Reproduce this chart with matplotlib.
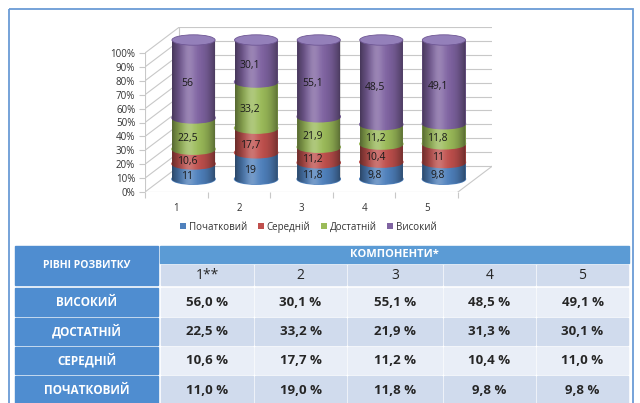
import numpy as np
import matplotlib.pyplot as plt
from matplotlib.patches import Ellipse, Rectangle, Patch, Polygon

plt.rcParams['font.family'] = ['Open Sans', 'DejaVu Sans']

# chart data (stacked bottom to top, raw values shown as labels)
components = ['1', '2', '3', '4', '5']
levels = ['Початковий', 'Середній', 'Достатній', 'Високий']
pochatkovyi = [11, 19, 11.8, 9.8, 9.8]
serednii = [10.6, 17.7, 11.2, 10.4, 11]
dostatnii = [22.5, 33.2, 21.9, 11.2, 11.8]
vysokyi = [56, 30.1, 55.1, 48.5, 49.1]
y_ticks = [0, 10, 20, 30, 40, 50, 60, 70, 80, 90, 100]

# table data
table_header = 'РІВНІ РОЗВИТКУ'
table_group = 'КОМПОНЕНТИ*'
table_cols = ['1**', '2', '3', '4', '5']
table_rows = ['ВИСОКИЙ', 'ДОСТАТНІЙ', 'СЕРЕДНІЙ', 'ПОЧАТКОВИЙ']
t_vysokyi = [56.0, 30.1, 55.1, 48.5, 49.1]
t_dostatnii = [22.5, 33.2, 21.9, 31.3, 30.1]
t_serednii = [10.6, 17.7, 11.2, 10.4, 11.0]
t_pochatkovyi = [11.0, 19.0, 11.8, 9.8, 9.8]

colors = ['#4f81bd', '#c0504d', '#9bbb59', '#8064a2']
grid_c = '#c8c8c8'

W, H = 640, 403
fig = plt.figure(figsize=(6.4, 4.03), dpi=100)

# background axes in pixel coordinates: frame + table
bg = fig.add_axes([0, 0, 1, 1])
bg.set_xlim(0, W)
bg.set_ylim(H, 0)
bg.axis('off')
bg.add_patch(Rectangle((9, 9), 624, 400, fill=False, edgecolor='#6a9bd6', lw=1.3))

blue = '#4f8dd0'
head_blue = '#5b9bd5'
light = '#e9eef7'
dark = '#d0dbed'
col_x = [160, 254, 347, 443, 536, 629]
row_y = [(288, 316), (318, 345), (347, 374), (376, 404)]

bg.add_patch(Rectangle((15, 246), 143, 39, color=blue))
bg.text(86.5, 265.5, table_header, ha='center', va='center', color='white',
        fontsize=7.5, fontweight='bold')
bg.add_patch(Rectangle((160, 246), 469, 17, color=head_blue))
bg.text(394, 254.5, table_group, ha='center', va='center', color='white',
        fontsize=8, fontweight='bold')
for k, name in enumerate(table_cols):
    x0, x1 = col_x[k] + 1, col_x[k + 1] - 1
    bg.add_patch(Rectangle((x0, 265), x1 - x0, 20, color=dark))
    bg.text((x0 + x1) / 2, 275.5, name, ha='center', va='center',
            color='#262626', fontsize=10)

table_vals = [t_vysokyi, t_dostatnii, t_serednii, t_pochatkovyi]
for r, (name, vals) in enumerate(zip(table_rows, table_vals)):
    y0, y1 = row_y[r]
    bg.add_patch(Rectangle((15, y0), 143, y1 - y0, color=blue))
    bg.text(86.5, (y0 + y1) / 2, name, ha='center', va='center', color='white',
            fontsize=8.5, fontweight='bold')
    fill = light if r % 2 == 0 else dark
    for k, v in enumerate(vals):
        x0, x1 = col_x[k] + 1, col_x[k + 1] - 1
        bg.add_patch(Rectangle((x0, y0), x1 - x0, y1 - y0, color=fill))
        txt = f"{v:.1f}".replace('.', ',') + ' %'
        bg.text((x0 + x1) / 2, (y0 + y1) / 2, txt, ha='center', va='center',
                color='#262626', fontsize=9.5, fontweight='bold')

# pseudo 3D chart axes (oblique depth offset)
DX, DY = 0.55, 18.7
px_x, px_y = 62.6, 1.39
left_px = 145
bot_px = 192
right_px = left_px + (5 + DX) * px_x
top_px = bot_px - (100 + DY) * px_y
ax = fig.add_axes([left_px / W, 1 - bot_px / H, (right_px - left_px) / W,
                   (bot_px - top_px) / H])
ax.patch.set_alpha(0)
for s in ax.spines.values():
    s.set_visible(False)

# walls and floor
for v in y_ticks:
    ax.plot([0, DX], [v, v + DY], color=grid_c, lw=0.8, zorder=1)
    ax.plot([DX, 5 + DX], [v + DY, v + DY], color=grid_c, lw=0.8, zorder=1)
ax.plot([0, 0], [0, 100], color=grid_c, lw=0.8, zorder=1)
ax.plot([DX, DX], [DY, 100 + DY], color=grid_c, lw=0.8, zorder=1)
ax.plot([0, 5], [0, 0], color=grid_c, lw=0.8, zorder=1)
ax.plot([5, 5 + DX], [0, DY], color=grid_c, lw=0.8, zorder=1)

# cylinders
stacks = [pochatkovyi, serednii, dostatnii, vysokyi]
bar_w = 0.69
ell_h = 7.5
u = np.linspace(0, 1, 120)
dark_shade = np.zeros((1, 120, 4))
dark_shade[..., 3] = 0.45 * np.abs(2 * u - 1) ** 2.2
light_shade = np.ones((1, 120, 4))
light_shade[..., 3] = 0.22 * np.exp(-((u - 0.38) / 0.15) ** 2)

for i in range(len(components)):
    xc = i + 0.5 + DX / 2
    total = sum(s[i] for s in stacks)
    bottom = DY / 2
    for k, series in enumerate(stacks):
        h = series[i] / total * 100
        z = 3 + k * 0.1
        ax.bar(xc, h, width=bar_w, bottom=bottom, color=colors[k], zorder=z)
        ax.add_patch(Ellipse((xc, bottom), bar_w, ell_h, color=colors[k], zorder=z))
        label = f"{series[i]:g}".replace('.', ',')
        ax.text(xc - 0.1, bottom + h / 2 - 3.5, label, ha='center', va='center',
                fontsize=7.5, color='#1a1a1a', zorder=6)
        bottom += h
    # shading clipped to the cylinder body
    t = np.linspace(np.pi, 2 * np.pi, 40)
    pts = list(zip(xc + bar_w / 2 * np.cos(t), DY / 2 + ell_h / 2 * np.sin(t)))
    pts += [(xc + bar_w / 2, bottom), (xc - bar_w / 2, bottom)]
    body = Polygon(pts, closed=True, facecolor='none', edgecolor='none')
    ax.add_patch(body)
    for img in (dark_shade, light_shade):
        im = ax.imshow(img, extent=[xc - bar_w / 2, xc + bar_w / 2,
                                    DY / 2 - ell_h, bottom],
                       aspect='auto', interpolation='bilinear', zorder=4)
        im.set_clip_path(body)
    ax.add_patch(Ellipse((xc, bottom), bar_w, ell_h, facecolor='#9480ba',
                         edgecolor='#6f5794', lw=0.6, zorder=5))

ax.set_xlim(0, 5 + DX)
ax.set_ylim(0, 100 + DY)
ax.set_yticks(y_ticks, [f"{v}%" for v in y_ticks])
ax.tick_params(axis='y', length=4, color=grid_c, pad=3, labelsize=7,
               labelcolor='#333333')
ax.set_xticks([0, 1, 2, 3, 4, 5], [''] * 6)
ax.set_xticks([i + 0.5 for i in range(5)], components, minor=True)
ax.tick_params(axis='x', which='major', length=4, color=grid_c)
ax.tick_params(axis='x', which='minor', length=0, pad=8, labelsize=7,
               labelcolor='#333333')

handles = [Patch(facecolor=c, label=l) for c, l in zip(colors, levels)]
fig.legend(handles=handles, loc='center', bbox_to_anchor=(0.482, 1 - 227 / H),
           ncol=4, frameon=False, fontsize=7, handlelength=0.6, handleheight=0.6,
           handletextpad=0.3, columnspacing=1.1, labelcolor='#333333')

fig.savefig('out.png', dpi=100)
